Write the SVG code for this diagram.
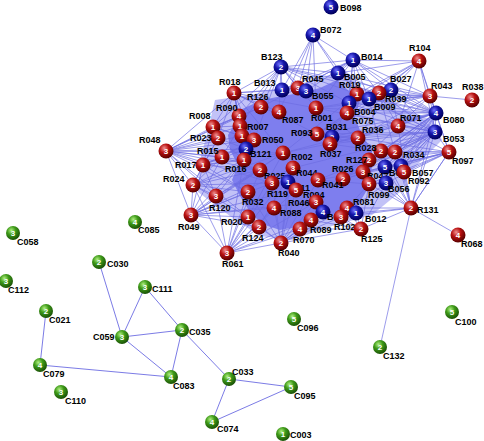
<svg xmlns="http://www.w3.org/2000/svg" width="484" height="441" viewBox="0 0 484 441">
<defs>
<radialGradient id="gr" cx="38%" cy="32%" r="68%"><stop offset="0" stop-color="#f09090"/><stop offset="0.45" stop-color="#b81010"/><stop offset="1" stop-color="#580000"/></radialGradient>
<radialGradient id="gb" cx="38%" cy="32%" r="68%"><stop offset="0" stop-color="#7070ff"/><stop offset="0.45" stop-color="#1414a8"/><stop offset="1" stop-color="#00005a"/></radialGradient>
<radialGradient id="gg" cx="38%" cy="32%" r="68%"><stop offset="0" stop-color="#b0f080"/><stop offset="0.45" stop-color="#3e9a18"/><stop offset="1" stop-color="#1a5206"/></radialGradient>
</defs>
<style>
.e{stroke:#6c6ce2;stroke-width:0.75;fill:none;stroke-opacity:0.9}
.eg{stroke:#6c6ce2;stroke-width:0.9;fill:none}
.lb{font-family:"Liberation Sans",Arial,sans-serif;font-weight:bold;font-size:9px;fill:#000}
.nm{font-family:"Liberation Sans",Arial,sans-serif;font-weight:bold;font-size:8px;fill:#fff;text-anchor:middle}
.r{fill:url(#gr)}
.b{fill:url(#gb)}
.g{fill:url(#gg)}
</style>
<rect width="484" height="441" fill="#fff"/>
<g id="connectors">
<polygon points="215,100 250,95 300,84 345,70 362,88 382,95 402,108 432,120 442,140 412,170 400,192 372,215 332,226 292,240 260,236 230,216 198,192 200,160 208,130" fill="#9090f0" fill-opacity="0.55"/>
<polygon points="240,110 262,100 282,96 300,93 320,88 337,80 350,92 360,100 355,118 362,135 372,150 372,165 370,185 358,205 345,212 318,218 300,226 280,230 262,224 250,212 240,196 232,180 238,165 230,150 228,135 236,122" fill="#7e7eee"/>
<path class="e" d="M166 151L213 127M166 151L218 138M166 151L222 157M166 151L203 165M166 151L193 185M166 151L191 215M166 151L216 196M166 151L239 116M166 151L234 93M166 151L240 126M166 151L244 160M166 151L254 140M166 151L246 149M166 151L283 153M166 151L260 170M166 151L248 192M166 151L248 217M166 151L272 183M166 151L261 107M166 151L242 136"/>
<path class="e" d="M191 215L193 185M191 215L203 165M191 215L216 196M191 215L248 192M191 215L248 217M191 215L259 227M191 215L227 253M191 215L272 183M191 215L274 208M191 215L260 170M191 215L244 160M191 215L222 157M191 215L283 153M191 215L293 168M191 215L316 202M191 215L296 190"/>
<path class="e" d="M227 253L216 196M227 253L248 192M227 253L248 217M227 253L259 227M227 253L274 208M227 253L272 183M227 253L260 170M227 253L300 229M227 253L281 243M227 253L316 202M227 253L311 220M227 253L296 190M227 253L293 168M227 253L244 160M227 253L193 185"/>
<path class="e" d="M281 243L259 227M281 243L248 217M281 243L274 208M281 243L300 229M281 243L311 220M281 243L316 202M281 243L296 190M281 243L272 183M281 243L341 217M281 243L361 229M281 243L248 192M281 243L293 168M281 243L323 212M281 243L347 208M281 243L288 182M281 243L318 180"/>
<path class="e" d="M234 93L213 127M234 93L239 116M234 93L261 107M234 93L282 90M234 93L281 67M234 93L240 126M234 93L218 138M234 93L254 140M234 93L283 153M234 93L317 134M234 93L279 112M234 93L316 108M234 93L298 88M234 93L242 136M234 93L246 149"/>
<path class="e" d="M281 67L282 90M281 67L298 88M281 67L306 91M281 67L353 60M281 67L338 73M281 67L261 107M281 67L279 112M281 67L239 116M281 67L213 127M281 67L316 108M281 67L357 94M281 67L379 93M281 67L391 90M281 67L240 126M281 67L254 140M281 67L349 103"/>
<path class="e" d="M313 35L298 88M313 35L306 91M313 35L282 90M313 35L338 73M313 35L353 60M313 35L316 108M313 35L357 94M313 35L279 112"/>
<path class="e" d="M353 60L338 73M353 60L419 61M353 60L391 90M353 60L357 94M353 60L369 99M353 60L379 93M353 60L298 88M353 60L306 91M353 60L316 108M353 60L349 103M353 60L430 96M353 60L436 113M353 60L347 113M353 60L282 90M353 60L261 107"/>
<path class="e" d="M419 61L338 73M419 61L391 90M419 61L379 93M419 61L369 99M419 61L357 94M419 61L430 96M419 61L436 113M419 61L398 126M419 61L349 103M419 61L435 132"/>
<path class="e" d="M430 96L472 100M430 96L391 90M430 96L379 93M430 96L369 99M430 96L357 94M430 96L349 103M430 96L436 113M430 96L435 132M430 96L398 126M430 96L347 113M430 96L358 138M430 96L316 108M430 96L338 73"/>
<path class="e" d="M436 113L379 93M436 113L369 99M436 113L357 94M436 113L349 103M436 113L347 113M436 113L358 138M436 113L398 126M436 113L381 151M436 113L395 152M436 113L369 160M436 113L363 172M436 113L385 167M436 113L316 108M436 113L317 134M436 113L332 137M436 113L330 144M436 113L283 153M436 113L343 179M436 113L369 184M436 113L391 90M436 113L338 73M436 113L449 152M436 113L411 208M436 113L435 132M436 113L401 166M436 113L404 172"/>
<path class="e" d="M435 132L379 93M435 132L369 99M435 132L357 94M435 132L349 103M435 132L347 113M435 132L358 138M435 132L398 126M435 132L381 151M435 132L395 152M435 132L369 160M435 132L363 172M435 132L385 167M435 132L401 166M435 132L404 172M435 132L386 183M435 132L369 184M435 132L317 134M435 132L332 137M435 132L330 144M435 132L343 179M435 132L318 180M435 132L293 168M435 132L449 152M435 132L411 208M435 132L316 108M435 132L391 90"/>
<path class="e" d="M449 152L395 152M449 152L381 151M449 152L401 166M449 152L404 172M449 152L386 183M449 152L369 184M449 152L369 160M449 152L363 172M449 152L385 167M449 152L411 208M449 152L398 126M449 152L358 138M449 152L343 179M449 152L430 96"/>
<path class="e" d="M411 208L449 152M411 208L404 172M411 208L401 166M411 208L386 183M411 208L369 184M411 208L356 213M411 208L347 208M411 208L361 229M411 208L341 217M411 208L380 347M411 208L458 235M411 208L363 172M411 208L395 152M411 208L381 151M411 208L398 126M411 208L385 167"/>
<path class="e" d="M361 229L356 213M361 229L347 208M361 229L341 217M361 229L311 220M361 229L300 229M361 229L323 212M361 229L386 183M361 229L369 184"/>
<path class="e" d="M193 185L203 165M193 185L222 157M193 185L216 196M193 185L248 192M193 185L244 160M193 185L260 170M193 185L283 153M193 185L248 217M193 185L218 138M193 185L272 183"/>
<path class="e" d="M203 165L222 157M203 165L218 138M203 165L244 160M203 165L283 153M203 165L246 149M203 165L260 170M203 165L254 140M203 165L213 127M203 165L216 196M203 165L248 192"/>
<path class="e" d="M213 127L239 116M213 127L240 126M213 127L218 138M213 127L254 140M213 127L261 107M213 127L242 136M222 157L240 126M222 157L254 140M222 157L260 170M218 138L246 149M218 138L244 160M216 196L260 170M216 196L244 160M216 196L283 153M248 217L283 153M259 227L293 168"/>
<path class="e" d="M332 137L358 138M330 144L381 151M317 134L395 152M343 179L369 160M318 180L363 172M283 153L358 138M316 108L358 138M347 113L317 134M349 103L330 144M379 93L317 134M369 99L316 108M357 94L283 153M391 90L358 138M391 90L317 134M379 93L395 152M369 99L381 151M398 126L330 144M398 126L343 179M391 90L398 126M379 93L398 126M358 138L381 151M369 160L395 152M363 172L385 167M369 184L386 183M343 179L385 167M318 180L369 184M341 217L386 183M347 208L369 184"/>
<path class="eg" d="M99 262L122 337M122 337L145 287M145 287L182 330M122 337L182 330M122 337L171 377M182 330L171 377M46 311L40 365M40 365L171 377M182 330L229 379M229 379L291 387M229 379L212 422M212 422L291 387"/>
</g>
<g id="B072"><circle class="b" cx="313" cy="35" r="7.5"/><text class="nm" x="313" y="38">4</text><text class="lb" x="320" y="33">B072</text></g>
<g id="B098"><circle class="b" cx="331" cy="7" r="7.5"/><text class="nm" x="331" y="10">5</text><text class="lb" x="340" y="11">B098</text></g>
<g id="B123"><circle class="b" cx="281" cy="67" r="7.5"/><text class="nm" x="281" y="70">2</text><text class="lb" x="261" y="60">B123</text></g>
<g id="R018"><circle class="r" cx="234" cy="93" r="7.5"/><text class="nm" x="234" y="96">1</text><text class="lb" x="219" y="85">R018</text></g>
<g id="B013"><circle class="b" cx="282" cy="90" r="7.5"/><text class="nm" x="282" y="93">1</text><text class="lb" x="254" y="86">B013</text></g>
<g id="R045"><circle class="r" cx="298" cy="88" r="7.5"/><text class="nm" x="298" y="91">3</text><text class="lb" x="302" y="82">R045</text></g>
<g id="B055"><circle class="b" cx="306" cy="91" r="7.5"/><text class="nm" x="306" y="94">3</text><text class="lb" x="312" y="99">B055</text></g>
<g id="B014"><circle class="b" cx="353" cy="60" r="7.5"/><text class="nm" x="353" y="63">1</text><text class="lb" x="361" y="60">B014</text></g>
<g id="R104"><circle class="r" cx="419" cy="61" r="7.5"/><text class="nm" x="419" y="64">4</text><text class="lb" x="409" y="51">R104</text></g>
<g id="B005"><circle class="b" cx="338" cy="73" r="7.5"/><text class="nm" x="338" y="76">1</text><text class="lb" x="344" y="80">B005</text></g>
<g id="R019"><circle class="r" cx="357" cy="94" r="7.5"/><text class="nm" x="357" y="97">1</text><text class="lb" x="339" y="88">R019</text></g>
<g id="B027"><circle class="b" cx="391" cy="90" r="7.5"/><text class="nm" x="391" y="93">2</text><text class="lb" x="390" y="82">B027</text></g>
<g id="R039"><circle class="r" cx="379" cy="93" r="7.5"/><text class="nm" x="379" y="96">2</text><text class="lb" x="385" y="102">R039</text></g>
<g id="B009"><circle class="b" cx="369" cy="99" r="7.5"/><text class="nm" x="369" y="102">1</text><text class="lb" x="374" y="110">B009</text></g>
<g id="B004"><circle class="b" cx="349" cy="103" r="7.5"/><text class="nm" x="349" y="106">1</text><text class="lb" x="354" y="115">B004</text></g>
<g id="R075"><circle class="r" cx="347" cy="113" r="7.5"/><text class="nm" x="347" y="116">4</text><text class="lb" x="352" y="124">R075</text></g>
<g id="R043"><circle class="r" cx="430" cy="96" r="7.5"/><text class="nm" x="430" y="99">3</text><text class="lb" x="431" y="89">R043</text></g>
<g id="R038"><circle class="r" cx="472" cy="100" r="7.5"/><text class="nm" x="472" y="103">2</text><text class="lb" x="462" y="90">R038</text></g>
<g id="B080"><circle class="b" cx="436" cy="113" r="7.5"/><text class="nm" x="436" y="116">4</text><text class="lb" x="443" y="123">B080</text></g>
<g id="R071"><circle class="r" cx="398" cy="126" r="7.5"/><text class="nm" x="398" y="129">4</text><text class="lb" x="400" y="121">R071</text></g>
<g id="B053"><circle class="b" cx="435" cy="132" r="7.5"/><text class="nm" x="435" y="135">3</text><text class="lb" x="443" y="142">B053</text></g>
<g id="R126"><circle class="r" cx="261" cy="107" r="7.5"/><text class="nm" x="261" y="110">2</text><text class="lb" x="247" y="100">R126</text></g>
<g id="R087"><circle class="r" cx="279" cy="112" r="7.5"/><text class="nm" x="279" y="115">4</text><text class="lb" x="282" y="123">R087</text></g>
<g id="R001"><circle class="r" cx="316" cy="108" r="7.5"/><text class="nm" x="316" y="111">1</text><text class="lb" x="311" y="121">R001</text></g>
<g id="R090"><circle class="r" cx="239" cy="116" r="7.5"/><text class="nm" x="239" y="119">4</text><text class="lb" x="216" y="111">R090</text></g>
<g id="R008"><circle class="r" cx="213" cy="127" r="7.5"/><text class="nm" x="213" y="130">1</text><text class="lb" x="189" y="119">R008</text></g>
<g id="R007"><circle class="r" cx="240" cy="126" r="7.5"/><text class="nm" x="240" y="129">1</text><text class="lb" x="247" y="130">R007</text></g>
<g id="R0x"><text class="lb" x="246" y="145">R0</text><circle class="r" cx="242" cy="136" r="7.5"/><text class="nm" x="242" y="139">1</text></g>
<g id="R050"><circle class="r" cx="254" cy="140" r="7.5"/><text class="nm" x="254" y="143">3</text><text class="lb" x="262" y="143">R050</text></g>
<g id="R023"><circle class="r" cx="218" cy="138" r="7.5"/><text class="nm" x="218" y="141">2</text><text class="lb" x="190" y="141">R023</text></g>
<g id="R048"><circle class="r" cx="166" cy="151" r="7.5"/><text class="nm" x="166" y="154">3</text><text class="lb" x="139" y="143">R048</text></g>
<g id="R015"><circle class="r" cx="222" cy="157" r="7.5"/><text class="nm" x="222" y="160">1</text><text class="lb" x="197" y="154">R015</text></g>
<g id="R017"><circle class="r" cx="203" cy="165" r="7.5"/><text class="nm" x="203" y="168">1</text><text class="lb" x="175" y="168">R017</text></g>
<g id="B121"><circle class="b" cx="246" cy="149" r="7.5"/><text class="nm" x="246" y="152">2</text><text class="lb" x="250" y="157">B121</text></g>
<g id="R016"><circle class="r" cx="244" cy="160" r="7.5"/><text class="nm" x="244" y="163">1</text><text class="lb" x="225" y="172">R016</text></g>
<g id="R024"><circle class="r" cx="193" cy="185" r="7.5"/><text class="nm" x="193" y="188">2</text><text class="lb" x="163" y="182">R024</text></g>
<g id="R093"><circle class="r" cx="317" cy="134" r="7.5"/><text class="nm" x="317" y="137">5</text><text class="lb" x="291" y="136">R093</text></g>
<g id="B031"><circle class="b" cx="332" cy="137" r="7.5"/><text class="nm" x="332" y="140">2</text><text class="lb" x="326" y="130">B031</text></g>
<g id="R037"><circle class="r" cx="330" cy="144" r="7.5"/><text class="nm" x="330" y="147">2</text><text class="lb" x="320" y="157">R037</text></g>
<g id="R036"><circle class="r" cx="358" cy="138" r="7.5"/><text class="nm" x="358" y="141">2</text><text class="lb" x="362" y="133">R036</text></g>
<g id="R002"><circle class="r" cx="283" cy="153" r="7.5"/><text class="nm" x="283" y="156">1</text><text class="lb" x="291" y="160">R002</text></g>
<g id="R028"><circle class="r" cx="381" cy="151" r="7.5"/><text class="nm" x="381" y="154">2</text><text class="lb" x="355" y="151">R028</text></g>
<g id="R034"><circle class="r" cx="395" cy="152" r="7.5"/><text class="nm" x="395" y="155">2</text><text class="lb" x="403" y="158">R034</text></g>
<g id="R097"><circle class="r" cx="449" cy="152" r="7.5"/><text class="nm" x="449" y="155">5</text><text class="lb" x="452" y="164">R097</text></g>
<g id="R127"><circle class="r" cx="369" cy="160" r="7.5"/><text class="nm" x="369" y="163">2</text><text class="lb" x="346" y="163">R127</text></g>
<g id="R026"><circle class="r" cx="343" cy="179" r="7.5"/><text class="nm" x="343" y="182">2</text><text class="lb" x="332" y="172">R026</text></g>
<g id="R044"><circle class="r" cx="293" cy="168" r="7.5"/><text class="nm" x="293" y="171">3</text><text class="lb" x="296" y="176">R044</text></g>
<g id="R025"><circle class="r" cx="260" cy="170" r="7.5"/><text class="nm" x="260" y="173">2</text><text class="lb" x="264" y="179">R025</text></g>
<g id="R041"><circle class="r" cx="318" cy="180" r="7.5"/><text class="nm" x="318" y="183">2</text><text class="lb" x="322" y="188">R041</text></g>
<g id="B0a"><circle class="b" cx="385" cy="167" r="7.5"/><text class="nm" x="385" y="170">5</text><text class="lb" x="389" y="176">B0</text></g>
<g id="R047"><circle class="r" cx="363" cy="172" r="7.5"/><text class="nm" x="363" y="175">3</text><text class="lb" x="367" y="179">R047</text></g>
<g id="B057"><circle class="b" cx="401" cy="166" r="7.5"/><text class="nm" x="401" y="169">3</text><text class="lb" x="412" y="176">B057</text></g>
<g id="R092"><circle class="r" cx="404" cy="172" r="7.5"/><text class="nm" x="404" y="175">5</text><text class="lb" x="408" y="184">R092</text></g>
<g id="B056"><circle class="b" cx="386" cy="183" r="7.5"/><text class="nm" x="386" y="186">3</text><text class="lb" x="388" y="192">B056</text></g>
<g id="R099"><circle class="r" cx="369" cy="184" r="7.5"/><text class="nm" x="369" y="187">5</text><text class="lb" x="368" y="198">R099</text></g>
<g id="R119"><circle class="r" cx="272" cy="183" r="7.5"/><text class="nm" x="272" y="186">3</text><text class="lb" x="267" y="197">R119</text></g>
<g id="B011"><circle class="b" cx="288" cy="182" r="7.5"/><text class="nm" x="288" y="185">1</text><text class="lb" x="289" y="191">B011</text></g>
<g id="R094"><circle class="r" cx="296" cy="190" r="7.5"/><text class="nm" x="296" y="193">5</text><text class="lb" x="303" y="198">R094</text></g>
<g id="R032"><circle class="r" cx="248" cy="192" r="7.5"/><text class="nm" x="248" y="195">2</text><text class="lb" x="242" y="205">R032</text></g>
<g id="R120"><circle class="r" cx="216" cy="196" r="7.5"/><text class="nm" x="216" y="199">3</text><text class="lb" x="209" y="211">R120</text></g>
<g id="R046"><circle class="r" cx="316" cy="202" r="7.5"/><text class="nm" x="316" y="205">3</text><text class="lb" x="288" y="206">R046</text></g>
<g id="R088"><circle class="r" cx="274" cy="208" r="7.5"/><text class="nm" x="274" y="211">4</text><text class="lb" x="280" y="216">R088</text></g>
<g id="B0b"><circle class="b" cx="323" cy="212" r="7.5"/><text class="nm" x="323" y="215">4</text><text class="lb" x="327" y="220">B0</text></g>
<g id="R081"><circle class="r" cx="347" cy="208" r="7.5"/><text class="nm" x="347" y="211">4</text><text class="lb" x="353" y="205">R081</text></g>
<g id="R102"><circle class="r" cx="341" cy="217" r="7.5"/><text class="nm" x="341" y="220">3</text><text class="lb" x="334" y="230">R102</text></g>
<g id="B012"><circle class="b" cx="356" cy="213" r="7.5"/><text class="nm" x="356" y="216">1</text><text class="lb" x="365" y="222">B012</text></g>
<g id="R089"><circle class="r" cx="311" cy="220" r="7.5"/><text class="nm" x="311" y="223">4</text><text class="lb" x="310" y="233">R089</text></g>
<g id="R049"><circle class="r" cx="191" cy="215" r="7.5"/><text class="nm" x="191" y="218">3</text><text class="lb" x="178" y="230">R049</text></g>
<g id="R020"><circle class="r" cx="248" cy="217" r="7.5"/><text class="nm" x="248" y="220">1</text><text class="lb" x="221" y="225">R020</text></g>
<g id="R124"><circle class="r" cx="259" cy="227" r="7.5"/><text class="nm" x="259" y="230">2</text><text class="lb" x="242" y="241">R124</text></g>
<g id="R070"><circle class="r" cx="300" cy="229" r="7.5"/><text class="nm" x="300" y="232">4</text><text class="lb" x="293" y="243">R070</text></g>
<g id="R125"><circle class="r" cx="361" cy="229" r="7.5"/><text class="nm" x="361" y="232">2</text><text class="lb" x="361" y="242">R125</text></g>
<g id="R040"><circle class="r" cx="281" cy="243" r="7.5"/><text class="nm" x="281" y="246">2</text><text class="lb" x="278" y="256">R040</text></g>
<g id="R061"><circle class="r" cx="227" cy="253" r="7.5"/><text class="nm" x="227" y="256">3</text><text class="lb" x="222" y="267">R061</text></g>
<g id="R131"><circle class="r" cx="411" cy="208" r="7.5"/><text class="nm" x="411" y="211">2</text><text class="lb" x="417" y="213">R131</text></g>
<g id="R068"><circle class="r" cx="458" cy="235" r="7.5"/><text class="nm" x="458" y="238">4</text><text class="lb" x="461" y="247">R068</text></g>
<g id="C085"><circle class="g" cx="135" cy="222" r="7"/><text class="nm" x="135" y="225">4</text><text class="lb" x="138" y="233">C085</text></g>
<g id="C058"><circle class="g" cx="13" cy="233" r="7"/><text class="nm" x="13" y="236">3</text><text class="lb" x="17" y="245">C058</text></g>
<g id="C030"><circle class="g" cx="99" cy="262" r="7"/><text class="nm" x="99" y="265">2</text><text class="lb" x="107" y="267">C030</text></g>
<g id="C112"><circle class="g" cx="6" cy="281" r="7"/><text class="nm" x="6" y="284">3</text><text class="lb" x="8" y="293">C112</text></g>
<g id="C111"><circle class="g" cx="145" cy="287" r="7"/><text class="nm" x="145" y="290">3</text><text class="lb" x="152" y="292">C111</text></g>
<g id="C021"><circle class="g" cx="46" cy="311" r="7"/><text class="nm" x="46" y="314">2</text><text class="lb" x="49" y="323">C021</text></g>
<g id="C035"><circle class="g" cx="182" cy="330" r="7"/><text class="nm" x="182" y="333">2</text><text class="lb" x="189" y="335">C035</text></g>
<g id="C059"><circle class="g" cx="122" cy="337" r="7"/><text class="nm" x="122" y="340">3</text><text class="lb" x="93" y="340">C059</text></g>
<g id="C079"><circle class="g" cx="40" cy="365" r="7"/><text class="nm" x="40" y="368">4</text><text class="lb" x="43" y="377">C079</text></g>
<g id="C083"><circle class="g" cx="171" cy="377" r="7"/><text class="nm" x="171" y="380">4</text><text class="lb" x="173" y="389">C083</text></g>
<g id="C110"><circle class="g" cx="61" cy="392" r="7"/><text class="nm" x="61" y="395">3</text><text class="lb" x="65" y="404">C110</text></g>
<g id="C033"><circle class="g" cx="229" cy="379" r="7"/><text class="nm" x="229" y="382">2</text><text class="lb" x="232" y="375">C033</text></g>
<g id="C074"><circle class="g" cx="212" cy="422" r="7"/><text class="nm" x="212" y="425">4</text><text class="lb" x="217" y="432">C074</text></g>
<g id="C096"><circle class="g" cx="294" cy="319" r="7"/><text class="nm" x="294" y="322">5</text><text class="lb" x="297" y="331">C096</text></g>
<g id="C095"><circle class="g" cx="291" cy="387" r="7"/><text class="nm" x="291" y="390">5</text><text class="lb" x="294" y="399">C095</text></g>
<g id="C003"><circle class="g" cx="283" cy="434" r="7"/><text class="nm" x="283" y="437">1</text><text class="lb" x="290" y="438">C003</text></g>
<g id="C132"><circle class="g" cx="380" cy="347" r="7"/><text class="nm" x="380" y="350">2</text><text class="lb" x="383" y="359">C132</text></g>
<g id="C100"><circle class="g" cx="452" cy="312" r="7"/><text class="nm" x="452" y="315">5</text><text class="lb" x="455" y="325">C100</text></g>
</svg>
